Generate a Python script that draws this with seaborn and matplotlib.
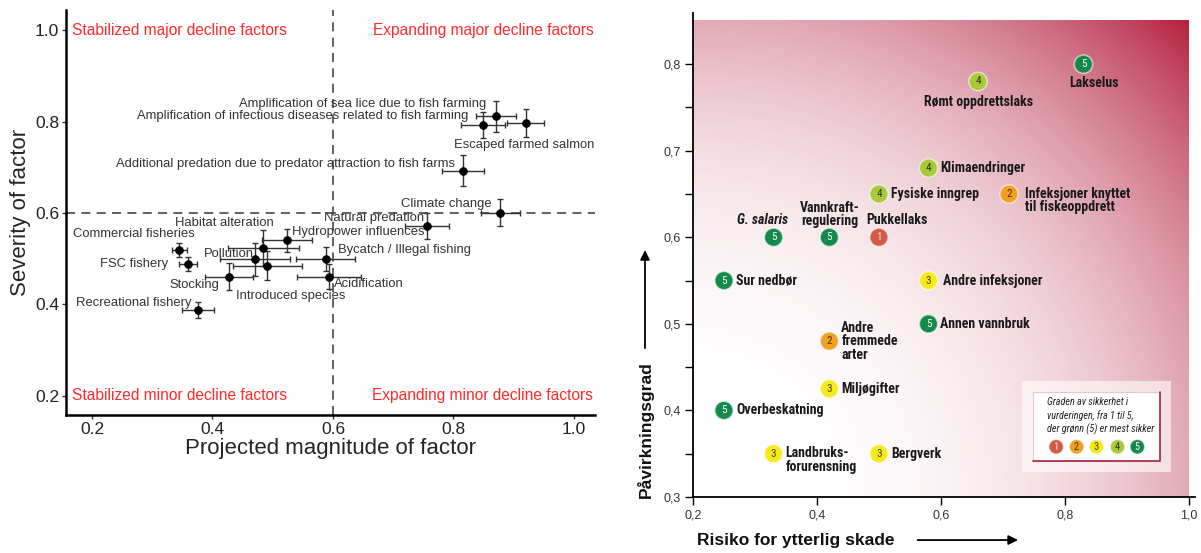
import matplotlib
matplotlib.use("Agg")
import matplotlib.pyplot as plt
import matplotlib.patches as mpatches
from matplotlib.colors import LinearSegmentedColormap
from matplotlib import font_manager
import numpy as np
import pandas as pd
import seaborn as sns

# %% Left panel data: decline factors
factors = ["Amplification of sea lice due to fish farming",
           "Amplification of infectious diseases related to fish farming",
           "Escaped farmed salmon",
           "Additional predation due to predator attraction to fish farms",
           "Climate change", "Natural predation", "Hydropower influences",
           "Habitat alteration", "Commercial fisheries", "Pollution",
           "FSC fishery", "Bycatch / Illegal fishing", "Stocking",
           "Introduced species", "Acidification", "Recreational fishery"]
magnitude = [0.870, 0.849, 0.920, 0.816, 0.878, 0.756, 0.524, 0.484,
             0.345, 0.471, 0.359, 0.588, 0.428, 0.491, 0.594, 0.376]
severity = [0.812, 0.793, 0.797, 0.692, 0.601, 0.571, 0.540, 0.523,
            0.519, 0.499, 0.488, 0.499, 0.461, 0.485, 0.461, 0.388]
magnitude_err = [0.033, 0.036, 0.031, 0.035, 0.032, 0.036, 0.042, 0.059,
                 0.012, 0.058, 0.015, 0.049, 0.040, 0.057, 0.053, 0.027]
severity_err = [0.034, 0.028, 0.031, 0.034, 0.029, 0.029, 0.026, 0.039,
                0.015, 0.036, 0.016, 0.026, 0.029, 0.032, 0.027, 0.018]

quadrants = ["Stabilized major decline factors", "Expanding major decline factors",
             "Stabilized minor decline factors", "Expanding minor decline factors"]
left_ticks = [0.2, 0.4, 0.6, 0.8, 1.0]
left_ticklabels = ["0.2", "0.4", "0.6", "0.8", "1.0"]

# %% Right panel data: Norwegian threat assessment
threats = ["Lakselus", "Rømt oppdrettslaks", "Klimaendringer", "Fysiske inngrep",
           "Infeksjoner knyttet\ntil fiskeoppdrett", "G. salaris",
           "Vannkraft-\nregulering", "Pukkellaks", "Sur nedbør",
           "Andre infeksjoner", "Annen vannbruk", "Andre\nfremmede\narter",
           "Miljøgifter", "Overbeskatning", "Landbruks-\nforurensning", "Bergverk"]
risk = [0.83, 0.66, 0.58, 0.50, 0.71, 0.33, 0.42, 0.50,
        0.25, 0.58, 0.58, 0.42, 0.42, 0.25, 0.33, 0.50]
impact = [0.80, 0.78, 0.68, 0.65, 0.65, 0.60, 0.60, 0.60,
          0.55, 0.55, 0.50, 0.48, 0.425, 0.40, 0.35, 0.35]
certainty = [5, 4, 4, 4, 2, 5, 5, 1, 5, 3, 5, 2, 3, 5, 3, 3]

right_xticks = [0.2, 0.4, 0.6, 0.8, 1.0]
right_xticklabels = ["0,2", "0,4", "0,6", "0,8", "1,0"]
right_yticks = [0.3, 0.4, 0.5, 0.6, 0.7, 0.8]
right_yticklabels = ["0,3", "0,4", "0,5", "0,6", "0,7", "0,8"]
legend_text = "Graden av sikkerhet i\nvurderingen, fra 1 til 5,\nder grønn (5) er mest sikker"
levels = [1, 2, 3, 4, 5]

cert_colors = {1: "#D35B45", 2: "#F0A024", 3: "#F7EA1C", 4: "#A9C93D", 5: "#14894A"}
num_colors = {1: "#F8E2D6", 2: "#5A3000", 3: "#4A4500", 4: "#2A3A10", 5: "#FFFFFF"}

# label placement (pixel offsets from the circle centre, alignment)
label_layout = {
    "Lakselus": (11, -19, "center"), "Rømt oppdrettslaks": (0, -21, "center"),
    "G. salaris": (-11, 17, "center"), "Vannkraft-\nregulering": (0, 23, "center"),
    "Pukkellaks": (18, 17, "center"),
    "Infeksjoner knyttet\ntil fiskeoppdrett": (16, -6.5, "left"),
    "Landbruks-\nforurensning": (12, -6.5, "left"),
    "Andre infeksjoner": (15, 0, "left"),
}

# text positions for the left panel labels (x, y, ha)
factor_text = [(0.855, 0.839, "right"), (0.825, 0.813, "right"), (0.917, 0.748, "center"),
               (0.802, 0.708, "right"), (0.864, 0.620, "right"), (0.752, 0.589, "right"),
               (0.532, 0.558, "left"), (0.420, 0.579, "center"), (0.269, 0.555, "center"),
               (0.427, 0.511, "center"), (0.327, 0.489, "right"), (0.609, 0.519, "left"),
               (0.370, 0.442, "center"), (0.530, 0.418, "center"), (0.602, 0.444, "left"),
               (0.270, 0.404, "center")]

# %% Style and fonts
sns.set_style("white")
names = {f.name for f in font_manager.fontManager.ttflist}
narrow = next((n for n in ["Liberation Sans Narrow", "Roboto Condensed",
                           "Open Sans Condensed", "DejaVu Sans Condensed"] if n in names), None)
shrink = 1.0
if narrow is None:
    narrow = "Liberation Sans"
    shrink = 0.85
plt.rcParams["font.family"] = ["Liberation Sans", "DejaVu Sans"]

fig = plt.figure(figsize=(12.01, 5.53), dpi=100)

# %% Left panel
ax1 = fig.add_axes([0.055, 0.2495, 0.4405, 0.7324])
ax1.errorbar(magnitude, severity, xerr=magnitude_err, yerr=severity_err, fmt="none",
             ecolor="#333333", elinewidth=1, capsize=2.5, capthick=1, zorder=2)
sns.scatterplot(x=magnitude, y=severity, color="black", s=32, edgecolor="black",
                linewidth=0.5, ax=ax1, zorder=3)
ax1.axhline(0.6, color="#555555", lw=1.3, ls=(0, (5, 3.5)), zorder=1)
ax1.axvline(0.6, color="#555555", lw=1.3, ls=(0, (5, 3.5)), zorder=1)

for name, (tx, ty, ha) in zip(factors, factor_text):
    ax1.text(tx, ty, name, ha=ha, va="center", fontsize=9.4, color="#333333", zorder=4)

red = "#FF2B2B"
ax1.text(0.167, 1.0, quadrants[0], ha="left", va="center", fontsize=11.2, color=red)
ax1.text(1.032, 1.0, quadrants[1], ha="right", va="center", fontsize=11.2, color=red)
ax1.text(0.167, 0.2, quadrants[2], ha="left", va="center", fontsize=11.2, color=red)
ax1.text(1.032, 0.2, quadrants[3], ha="right", va="center", fontsize=11.2, color=red)

ax1.set_xlim(0.157, 1.035)
ax1.set_ylim(0.158, 1.044)
ax1.set_xticks(left_ticks, left_ticklabels)
ax1.set_yticks(left_ticks, left_ticklabels)
ax1.tick_params(bottom=True, left=True, direction="out", length=3, width=1,
                color="#333333", labelsize=12.5, labelcolor="#222222", pad=2)
for side in ["top", "right"]:
    ax1.spines[side].set_visible(False)
for side in ["left", "bottom"]:
    ax1.spines[side].set_color("black")
    ax1.spines[side].set_linewidth(1.8)
ax1.set_xlabel("Projected magnitude of factor", fontsize=16, labelpad=1)
ax1.set_ylabel("Severity of factor", fontsize=16, labelpad=3)

# %% Right panel
ax2 = fig.add_axes([0.577, 0.1013, 0.418, 0.875])
u, v = np.meshgrid(np.linspace(0, 1, 300), np.linspace(0, 1, 300))
shade = ((u ** 2 + v ** 2) / 2) ** 1.4
cmap = LinearSegmentedColormap.from_list("w2r", ["#ffffff", "#B5213F"])
ax2.imshow(shade, extent=[0.2, 1.0, 0.3, 0.85], origin="lower", cmap=cmap,
           vmin=0, vmax=1, aspect="auto", zorder=0)

df = pd.DataFrame({"risk": risk, "impact": impact, "certainty": certainty})
sns.scatterplot(data=df, x="risk", y="impact", hue="certainty", palette=cert_colors,
                s=175, edgecolor=(1, 1, 1, 0.55), linewidth=1.2, legend=False,
                ax=ax2, zorder=3)

px = 0.72  # points per pixel at 100 dpi
for name, x, y, c in zip(threats, risk, impact, certainty):
    ax2.text(x, y, str(c), ha="center", va="center", fontsize=8 * shrink,
             color=num_colors[c], family=[narrow, "DejaVu Sans"], zorder=4)
    dx, dy, ha = label_layout.get(name, (12, 0, "left"))
    style = "italic" if name.startswith("G.") else "normal"
    ax2.annotate(name, (x, y), xytext=(dx * px, dy * px), textcoords="offset points",
                 ha=ha, va="center", fontsize=10 * shrink, fontweight="bold",
                 fontstyle=style, color="#1a1a1a", linespacing=0.95,
                 family=[narrow, "DejaVu Sans"], zorder=4)

# legend box
ax2.add_patch(mpatches.Rectangle((0.731, 0.329), 0.241, 0.105, facecolor="white",
                                 alpha=0.6, edgecolor="none", zorder=5))
ax2.add_patch(mpatches.Rectangle((0.749, 0.342), 0.204, 0.079, facecolor="white",
                                 edgecolor="#E8C8CC", lw=0.8, zorder=6))
ax2.plot([0.953, 0.953, 0.749], [0.421, 0.342, 0.342], color="#A3243F", lw=1.2, zorder=7)
ax2.text(0.771, 0.415, legend_text, ha="left", va="top", fontsize=7.3 * shrink,
         fontstyle="italic", color="#222222", linespacing=1.3,
         family=[narrow, "DejaVu Sans"], zorder=7)
legend_x = [0.786, 0.819, 0.851, 0.885, 0.917]
ax2.scatter(legend_x, [0.358] * 5, s=110, c=[cert_colors[k] for k in levels],
            edgecolors=[(1, 1, 1, 0.55)] * 5, linewidths=1, zorder=8)
for lx, k in zip(legend_x, levels):
    ax2.text(lx, 0.358, str(k), ha="center", va="center", fontsize=7.5 * shrink,
             color=num_colors[k], family=[narrow, "DejaVu Sans"], zorder=9)

ax2.set_xlim(0.2, 1.01)
ax2.set_ylim(0.3, 0.859)
ax2.set_xticks(right_xticks, right_xticklabels)
ax2.set_yticks(right_yticks, right_yticklabels)
ax2.set_yticks([0.35, 0.45, 0.55, 0.65, 0.75], minor=True)
ax2.tick_params(which="both", bottom=True, left=True, direction="out", length=6,
                width=1, color="black", labelsize=9, labelcolor="#333333", pad=3)
for side in ["top", "right"]:
    ax2.spines[side].set_visible(False)
for side in ["left", "bottom"]:
    ax2.spines[side].set_color("black")
    ax2.spines[side].set_linewidth(1.3)
ax2.set_xlabel("")
ax2.set_ylabel("")

ax2.text(-0.0956, 0.14, "Påvirkningsgrad", transform=ax2.transAxes, rotation=90,
         ha="center", va="center", fontsize=12.5, fontweight="bold", color="#111111")
ax2.annotate("", xy=(-0.0956, 0.516), xytext=(-0.0956, 0.302), xycoords="axes fraction",
             arrowprops=dict(arrowstyle="-|>", color="black", lw=1.3, mutation_scale=14))
ax2.text(0.008, -0.089, "Risiko for ytterlig skade", transform=ax2.transAxes,
         ha="left", va="center", fontsize=12.5, fontweight="bold", color="#111111")
ax2.annotate("", xy=(0.653, -0.089), xytext=(0.442, -0.089), xycoords="axes fraction",
             arrowprops=dict(arrowstyle="-|>", color="black", lw=1.3, mutation_scale=14))

fig.savefig("out.png", dpi=100)
